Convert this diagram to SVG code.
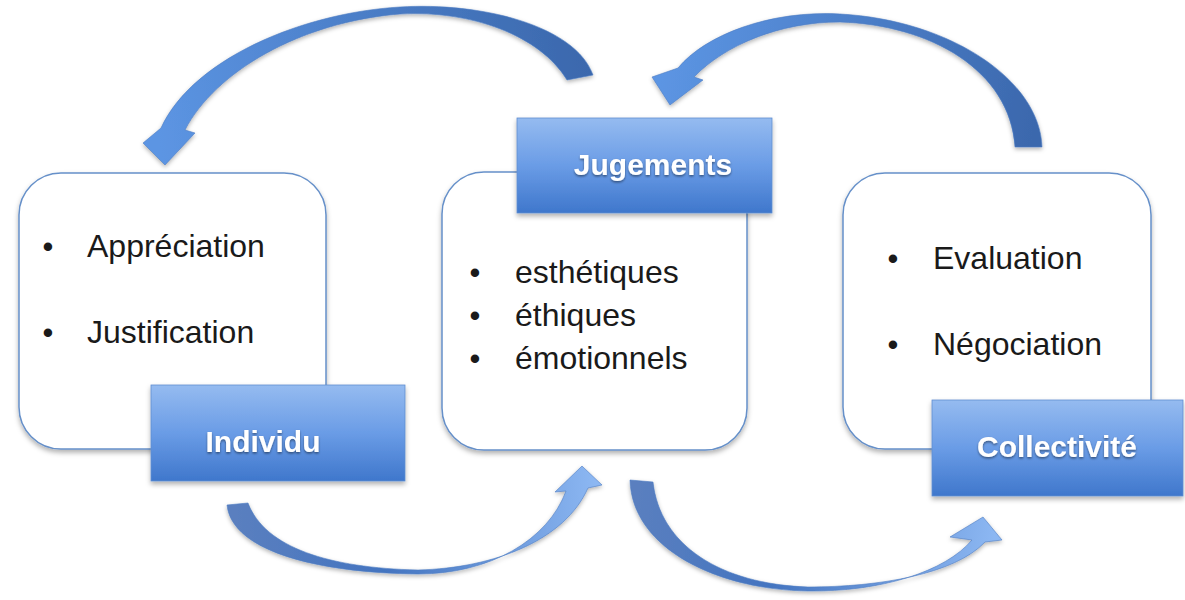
<svg xmlns="http://www.w3.org/2000/svg" width="1185" height="600" viewBox="0 0 1185 600">
  <style>
    .card { fill: #ffffff; stroke: #6690c9; stroke-width: 1.5; filter: url(#shadow); }
    .label { fill: url(#labelGrad); stroke: #5f8ed0; stroke-width: 0.8; filter: url(#shadow); }
    .ltxt { font-family: "Liberation Sans", Arial, sans-serif; font-weight: bold; font-size: 30px; fill: #ffffff; text-anchor: middle; filter: url(#tshadow); }
    .btxt { font-family: "Liberation Sans", Arial, sans-serif; font-size: 32px; fill: #1a1a1a; }
    .bul { font-family: "Liberation Sans", Arial, sans-serif; font-size: 31px; fill: #1a1a1a; text-anchor: middle; }
    .arrow { stroke: #4d7cc2; stroke-width: 0.6; filter: url(#ashadow); }
  </style>
  <defs>
    <linearGradient id="labelGrad" x1="0" y1="0" x2="0" y2="1">
      <stop offset="0" stop-color="#95bbf0"/>
      <stop offset="0.5" stop-color="#6a9ce6"/>
      <stop offset="1" stop-color="#3f77cc"/>
    </linearGradient>
    <linearGradient id="gTL" gradientUnits="userSpaceOnUse" x1="590" y1="70" x2="160" y2="150">
      <stop offset="0" stop-color="#3b68ad"/>
      <stop offset="1" stop-color="#5c95e3"/>
    </linearGradient>
    <linearGradient id="gTR" gradientUnits="userSpaceOnUse" x1="1030" y1="150" x2="660" y2="80">
      <stop offset="0" stop-color="#3b68ad"/>
      <stop offset="1" stop-color="#5c95e3"/>
    </linearGradient>
    <linearGradient id="gBL" gradientUnits="userSpaceOnUse" x1="235" y1="500" x2="595" y2="475">
      <stop offset="0" stop-color="#5a7fbf"/>
      <stop offset="0.4" stop-color="#4374c0"/>
      <stop offset="1" stop-color="#8cb7f2"/>
    </linearGradient>
    <linearGradient id="gBR" gradientUnits="userSpaceOnUse" x1="640" y1="480" x2="995" y2="525">
      <stop offset="0" stop-color="#5a7fbf"/>
      <stop offset="0.4" stop-color="#4374c0"/>
      <stop offset="1" stop-color="#8cb7f2"/>
    </linearGradient>
    <filter id="shadow" x="-10%" y="-10%" width="125%" height="130%">
      <feDropShadow dx="0" dy="3" stdDeviation="2.5" flood-color="#000000" flood-opacity="0.3"/>
    </filter>
    <filter id="ashadow" x="-10%" y="-10%" width="125%" height="130%">
      <feDropShadow dx="0" dy="2" stdDeviation="2" flood-color="#000000" flood-opacity="0.3"/>
    </filter>
    <filter id="tshadow" x="-10%" y="-20%" width="125%" height="150%">
      <feDropShadow dx="0" dy="1.5" stdDeviation="1" flood-color="#000000" flood-opacity="0.45"/>
    </filter>
  </defs>

  <g id="connectors">
    <path id="arrow-jug-individu" class="arrow" fill="url(#gTL)" d="M 593,75 C 575,25 480,2 400,7 C 300,13 192,60 161,128 L 143,143 L 165,165 L 195,133 L 185,130 C 215,72 300,22 400,14 C 470,10 540,35 567,80 Z"/>
    <path id="arrow-coll-jug" class="arrow" fill="url(#gTR)" d="M 1042,147 C 1040,80 950,20 840,14 C 770,10 705,35 678,68 L 652,77 L 670,105 L 703,80 L 694,77 C 725,45 780,22 840,22 C 930,25 1010,70 1015,147 Z"/>
    <path id="arrow-individu-jug" class="arrow" fill="url(#gBL)" d="M 227,505 C 232,552 320,573 418,574 C 490,574 548,540 566,491 L 555,492 L 582,466 L 602,485 L 588,488 C 565,540 495,568 418,570 C 330,568 265,548 248,503 Z"/>
    <path id="arrow-jug-coll" class="arrow" fill="url(#gBR)" d="M 630,480 C 632,550 720,590 808,591 C 880,592 945,572 972,540 L 950,537 L 983,517 L 1002,540 L 985,542 C 955,574 880,587 808,587 C 720,584 660,545 653,482 Z"/>
  </g>

  <g id="node-individu">
    <rect class="card" x="19" y="173" width="307" height="276" rx="42" ry="42"/>
    <text class="bul" x="48" y="257">•</text>
    <text class="btxt" x="87" y="257">Appréciation</text>
    <text class="bul" x="48" y="343">•</text>
    <text class="btxt" x="87" y="343">Justification</text>
    <rect class="label" x="151" y="385" width="254" height="96"/>
    <text class="ltxt" x="263" y="452">Individu</text>
  </g>

  <g id="node-jugements">
    <rect class="card" x="442" y="172" width="305" height="278" rx="42" ry="42"/>
    <text class="bul" x="475" y="283">•</text>
    <text class="btxt" x="515" y="283">esthétiques</text>
    <text class="bul" x="475" y="326">•</text>
    <text class="btxt" x="515" y="326">éthiques</text>
    <text class="bul" x="475" y="369">•</text>
    <text class="btxt" x="515" y="369">émotionnels</text>
    <rect class="label" x="517" y="118" width="255" height="95"/>
    <text class="ltxt" x="653" y="175">Jugements</text>
  </g>

  <g id="node-collectivite">
    <rect class="card" x="843" y="173" width="308" height="276" rx="42" ry="42"/>
    <text class="bul" x="893" y="269">•</text>
    <text class="btxt" x="933" y="269">Evaluation</text>
    <text class="bul" x="893" y="355">•</text>
    <text class="btxt" x="933" y="355">Négociation</text>
    <rect class="label" x="932" y="400" width="251" height="96"/>
    <text class="ltxt" x="1057" y="457">Collectivité</text>
  </g>
</svg>
